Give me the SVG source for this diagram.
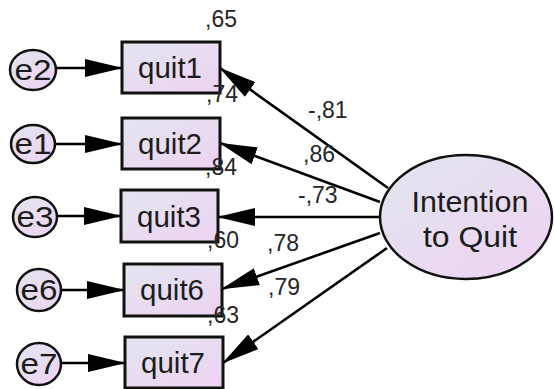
<svg xmlns="http://www.w3.org/2000/svg" width="554" height="389" viewBox="0 0 554 389">
  <defs>
    <linearGradient id="fillGrad" x1="0" y1="0" x2="1" y2="1">
      <stop offset="0" stop-color="#e2e6ef"/>
      <stop offset="1" stop-color="#eed2f2"/>
    </linearGradient>
    <marker id="head" viewBox="0 0 38 18" refX="37" refY="9" markerWidth="38" markerHeight="18" markerUnits="userSpaceOnUse" orient="auto">
      <path d="M0,0 L38,9 L0,18 z" fill="#000"/>
    </marker>
    <style>
      .box { fill: url(#fillGrad); stroke: #111; stroke-width: 3; }
      .err { fill: url(#fillGrad); stroke: #111; stroke-width: 2.5; }
      .lat { fill: url(#fillGrad); stroke: #111; stroke-width: 2.5; }
      .lbl { font-family: "Liberation Sans", Arial, sans-serif; fill: #1c1c1c; text-anchor: middle; }
      .big { font-size: 29px; }
      .errt { font-size: 30px; }
      .latt { font-size: 30px; }
      .num { font-family: "Liberation Sans", Arial, sans-serif; fill: #262626; font-size: 23px; }
      .edge { stroke: #000; stroke-width: 2.6; fill: none; marker-end: url(#head); }
    </style>
  </defs>

  <!-- connectors -->
  <g id="connectors">
    <line class="edge" x1="56" y1="68" x2="122" y2="68"/>
    <line class="edge" x1="55" y1="144" x2="122" y2="144"/>
    <line class="edge" x1="57" y1="216" x2="121" y2="216"/>
    <line class="edge" x1="61" y1="290" x2="124" y2="290"/>
    <line class="edge" x1="61" y1="363" x2="125" y2="363"/>
    <line class="edge" x1="388" y1="188" x2="220" y2="68"/>
    <line class="edge" x1="380" y1="202" x2="220" y2="143"/>
    <line class="edge" x1="379" y1="217" x2="218" y2="217"/>
    <line class="edge" x1="380" y1="233" x2="222" y2="289"/>
    <line class="edge" x1="387" y1="248" x2="223" y2="363"/>
  </g>

  <!-- error terms -->
  <g id="e2"><ellipse class="err" cx="33" cy="70" rx="23" ry="20"/><text class="lbl errt" x="33" y="80" textLength="37" lengthAdjust="spacingAndGlyphs">e2</text></g>
  <g id="e1"><ellipse class="err" cx="33" cy="144" rx="22" ry="19"/><text class="lbl errt" x="33" y="154" textLength="37" lengthAdjust="spacingAndGlyphs">e1</text></g>
  <g id="e3"><ellipse class="err" cx="35" cy="217" rx="22" ry="20"/><text class="lbl errt" x="35" y="227" textLength="37" lengthAdjust="spacingAndGlyphs">e3</text></g>
  <g id="e6"><ellipse class="err" cx="39" cy="290" rx="22" ry="21"/><text class="lbl errt" x="39" y="300" textLength="37" lengthAdjust="spacingAndGlyphs">e6</text></g>
  <g id="e7"><ellipse class="err" cx="39" cy="364" rx="22" ry="21"/><text class="lbl errt" x="39" y="374" textLength="37" lengthAdjust="spacingAndGlyphs">e7</text></g>

  <!-- observed items -->
  <g id="quit1"><rect class="box" x="122" y="42" width="98" height="51"/><text class="lbl big" x="170" y="78" textLength="64" lengthAdjust="spacingAndGlyphs">quit1</text></g>
  <g id="quit2"><rect class="box" x="122" y="118" width="98" height="51"/><text class="lbl big" x="170" y="154" textLength="64" lengthAdjust="spacingAndGlyphs">quit2</text></g>
  <g id="quit3"><rect class="box" x="121" y="190" width="97" height="52"/><text class="lbl big" x="169" y="227" textLength="64" lengthAdjust="spacingAndGlyphs">quit3</text></g>
  <g id="quit6"><rect class="box" x="124" y="264" width="98" height="52"/><text class="lbl big" x="172" y="300" textLength="64" lengthAdjust="spacingAndGlyphs">quit6</text></g>
  <g id="quit7"><rect class="box" x="125" y="337" width="98" height="51"/><text class="lbl big" x="173" y="373" textLength="64" lengthAdjust="spacingAndGlyphs">quit7</text></g>

  <!-- latent factor -->
  <g id="intention">
    <ellipse class="lat" cx="466" cy="217" rx="86" ry="62"/>
    <text class="lbl latt" x="470" y="212" textLength="117" lengthAdjust="spacingAndGlyphs">Intention</text>
    <text class="lbl latt" x="470" y="247" textLength="94" lengthAdjust="spacingAndGlyphs">to Quit</text>
  </g>

  <!-- estimates -->
  <g id="estimates">
    <text class="num" x="205" y="27">,65</text>
    <text class="num" x="206" y="102">,74</text>
    <text class="num" x="205" y="175">,84</text>
    <text class="num" x="207" y="248">,60</text>
    <text class="num" x="207" y="323">,63</text>
    <text class="num" x="308" y="118">-,81</text>
    <text class="num" x="303" y="162">,86</text>
    <text class="num" x="298" y="203">-,73</text>
    <text class="num" x="267" y="251">,78</text>
    <text class="num" x="268" y="295">,79</text>
  </g>
</svg>
